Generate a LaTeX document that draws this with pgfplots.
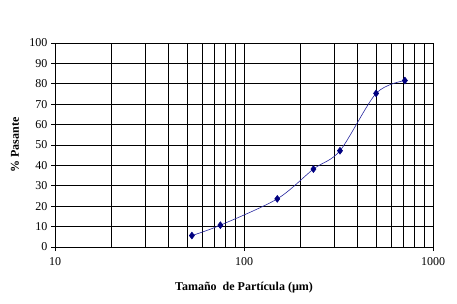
\documentclass[border=0pt]{standalone}
\usepackage{fontspec}
\setmainfont{Liberation Serif}
\usepackage{pgfplots}
\pgfplotsset{compat=1.18}
\definecolor{navy}{RGB}{0,0,128}
\definecolor{linecol}{RGB}{40,40,160}
\begin{document}
\begin{tikzpicture}
\path[use as bounding box] (-55pt,-56pt) rectangle (402pt,247pt);
\begin{axis}[
  scale only axis,
  width=378pt, height=204pt,
  xmode=log, log basis x=10,
  xmin=10, xmax=1000, ymin=0, ymax=100,
  xtick={10,100,1000},
  ytick={0,10,...,100},
  minor xtick={20,30,40,50,60,70,80,90,200,300,400,500,600,700,800,900},
  grid=both,
  major grid style={black, line width=0.8pt},
  minor grid style={black, line width=0.8pt},
  axis line style={black, line width=0.8pt},
  axis x line*=bottom, axis y line*=left,
  tick style={black, line width=0.8pt},
  tick align=outside,
  major tick length=4pt,
  minor tick length=0pt,
  ticklabel style={font=\fontsize{12}{14}\selectfont},
  /pgf/number format/assume math mode=true,
  /pgf/number format/set thousands separator={},
  xticklabel={\pgfmathparse{10^\tick}\pgfmathprintnumber[fixed,precision=0,set thousands separator={}]{\pgfmathresult}},
  xticklabel style={yshift=-3pt},
  xlabel={\textbf{Tamaño\ \ de Partícula (µm)}},
  ylabel={\textbf{\% Pasante}},
  label style={font=\fontsize{12}{14}\selectfont},
  xlabel style={at={(axis description cs:0.5,-0.2)}, anchor=center},
  ylabel style={at={(axis description cs:-0.106,0.5)}, anchor=center},
  clip=false,
]
\addplot[linecol, line width=0.6pt, smooth, tension=0.5,
  mark=diamond*, mark size=3.4pt, mark options={navy, fill=navy, solid}]
  coordinates {(53,5.6) (75,10.7) (150,23.6) (233,38.2) (322,47.2) (500,75.3) (710,81.6)};
\end{axis}
\end{tikzpicture}
\end{document}
